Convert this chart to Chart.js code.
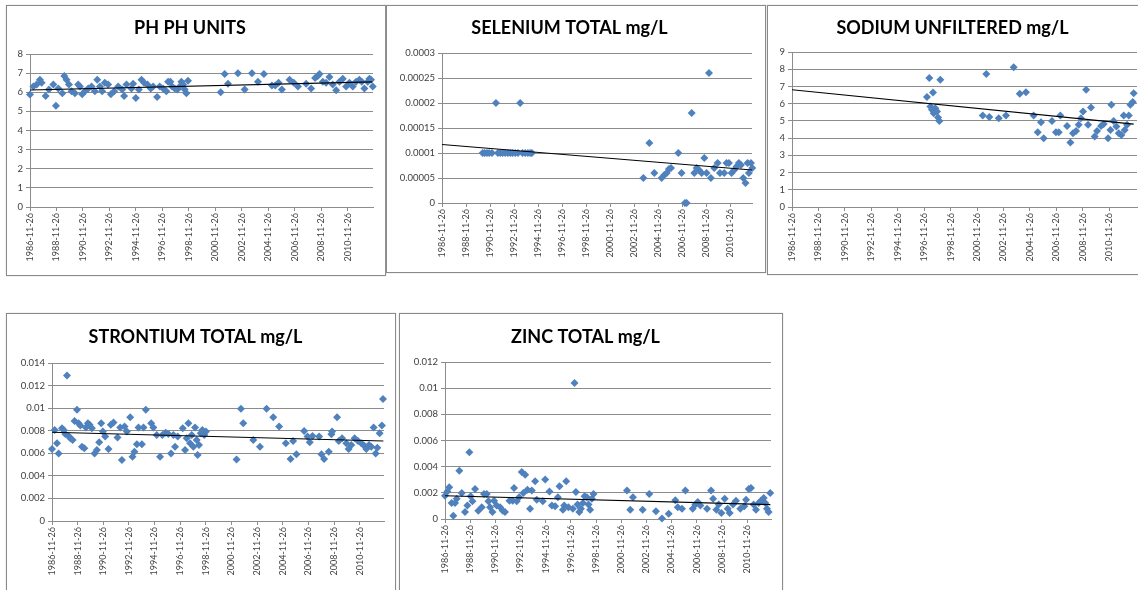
<!DOCTYPE html>
<html>
<head>
<meta charset="utf-8">
<title>Water quality trends</title>
<script src="https://cdn.jsdelivr.net/npm/chart.js@4.4.0/dist/chart.umd.min.js"></script>
<style>
  html, body {
    margin: 0;
    padding: 0;
    width: 1138px;
    height: 590px;
    overflow: hidden;
    background: #fff;
  }
  .panel {
    position: absolute;
    box-sizing: border-box;
    border: 1px solid #8a8a8a;
    box-shadow: 0 0 1px #b5b5b5;
    background: #fff;
  }
  .panel canvas {
    position: absolute;
    left: 0;
    top: 0;
  }
</style>
</head>
<body>
<div class="panel" id="p-ph"><canvas></canvas></div>
<div class="panel" id="p-se"><canvas></canvas></div>
<div class="panel" id="p-na"><canvas></canvas></div>
<div class="panel" id="p-sr"><canvas></canvas></div>
<div class="panel" id="p-zn"><canvas></canvas></div>

<script>
// x axis: sample dates as decimal years, ticks every two years
const tickDates = ['1986-11-26', '1988-11-26', '1990-11-26', '1992-11-26', '1994-11-26', '1996-11-26',
	'1998-11-26', '2000-11-26', '2002-11-26', '2004-11-26', '2006-11-26', '2008-11-26', '2010-11-26'];
const trendYears = [1986.9, 2012.75];

// PH PH UNITS
const phYears = [1986.90, 1987.15, 1987.40, 1987.65, 1987.78, 1988.08, 1988.33, 1988.66, 1988.86, 1989.04,
	1989.34, 1989.49, 1989.66, 1989.84, 1990.04, 1990.29, 1990.54, 1990.67, 1990.84, 1991.05,
	1991.30, 1991.55, 1991.80, 1991.98, 1992.18, 1992.35, 1992.55, 1992.80, 1993.01, 1993.26,
	1993.56, 1993.86, 1994.01, 1994.19, 1994.56, 1994.69, 1994.89, 1995.12, 1995.32, 1995.52,
	1995.77, 1996.02, 1996.20, 1996.50, 1996.70, 1996.95, 1997.20, 1997.33, 1997.50, 1997.63,
	1997.83, 1998.03, 1998.21, 1998.33, 1998.46, 1998.58, 1998.71, 1998.83,
	2001.30, 2001.60, 2001.85, 2002.60, 2003.11, 2003.66, 2004.11, 2004.56, 2005.17, 2005.42,
	2005.67, 2005.92, 2006.50, 2006.82, 2007.13, 2007.75, 2008.13, 2008.43, 2008.63, 2008.76,
	2009.01, 2009.26, 2009.51, 2009.76, 2010.02, 2010.27, 2010.52, 2010.77, 2011.02, 2011.27,
	2011.52, 2011.77, 2011.95, 2012.15, 2012.40, 2012.53, 2012.65, 2012.78];
const phValues = [5.88, 6.3, 6.4, 6.65, 6.5, 5.8, 6.15, 6.4, 5.3, 6.2,
	5.95, 6.85, 6.65, 6.4, 6.05, 5.95, 6.4, 6.3, 5.9, 6.05,
	6.2, 6.3, 6.05, 6.65, 6.3, 6.05, 6.5, 6.4, 5.9, 6.05,
	6.3, 6.15, 5.8, 6.4, 6.2, 6.45, 5.7, 6.15, 6.65, 6.5,
	6.4, 6.2, 6.3, 5.75, 6.3, 6.2, 6.05, 6.55, 6.55, 6.3,
	6.2, 6.15, 6.3, 6.55, 6.4, 6.15, 5.95, 6.6,
	6.0, 6.95, 6.45, 7.0, 6.15, 7.0, 6.55, 6.95, 6.35, 6.35,
	6.5, 6.15, 6.65, 6.5, 6.3, 6.45, 6.2, 6.75, 6.85, 6.95,
	6.55, 6.5, 6.8, 6.4, 6.1, 6.55, 6.7, 6.3, 6.5, 6.3,
	6.55, 6.65, 6.55, 6.2, 6.55, 6.7, 6.65, 6.3];
const phTrend = [6.12, 6.54];

// SELENIUM TOTAL mg/L
const seYears = [1990.28, 1990.45, 1990.64, 1990.83, 1991.06, 1991.39, 1991.55, 1991.75, 1991.94, 1992.16,
	1992.38, 1992.58, 1992.77, 1992.99, 1993.22, 1993.41, 1993.60, 1993.83, 1994.05, 1994.24, 1994.38,
	2003.66, 2004.16, 2004.57, 2005.18, 2005.40, 2005.60, 2005.79, 2005.96, 2006.57, 2006.84,
	2007.12, 2007.26, 2007.68, 2007.90, 2008.09, 2008.29, 2008.51, 2008.73, 2008.92, 2009.12,
	2009.28, 2009.56, 2009.84, 2010.03, 2010.39, 2010.58, 2010.78, 2011.00, 2011.22, 2011.42,
	2011.61, 2011.78, 2011.97, 2012.16, 2012.33, 2012.44, 2012.61, 2012.72];
const seValues = [0.0001, 0.0001, 0.0001, 0.0001, 0.0001, 0.0002, 0.0001, 0.0001, 0.0001, 0.0001,
	0.0001, 0.0001, 0.0001, 0.0001, 0.0001, 0.0002, 0.0001, 0.0001, 0.0001, 0.0001, 0.0001,
	0.00005, 0.00012, 0.00006, 0.00005, 0.000056, 0.00006, 0.000068, 0.00007, 0.0001, 0.00006,
	0, 0, 0.00018, 0.00006, 0.00007, 0.000066, 0.00006, 0.00009, 0.00006, 0.00026,
	0.00005, 0.00007, 0.00008, 0.00006, 0.00006, 0.00008, 0.00008, 0.00006, 0.000066, 0.000073,
	0.00008, 0.000076, 0.00005, 0.00004, 0.00008, 0.00006, 0.00008, 0.00007];
const seTrend = [0.000117, 0.000066];

// SODIUM UNFILTERED mg/L
const naYears = [1997.11, 1997.29, 1997.37, 1997.49, 1997.57, 1997.62, 1997.74, 1997.87, 1997.95, 1998.05,
	1998.12, 2001.33, 2001.60, 2001.83, 2002.54, 2003.09, 2003.67, 2004.13, 2004.60, 2005.18,
	2005.49, 2005.74, 2005.94, 2006.57, 2006.87, 2007.08, 2007.20, 2007.71, 2007.96, 2008.16,
	2008.39, 2008.59, 2008.76, 2008.92, 2009.15, 2009.30, 2009.52, 2009.80, 2009.98, 2010.28,
	2010.48, 2010.81, 2010.99, 2011.06, 2011.23, 2011.44, 2011.62, 2011.82, 2012.00, 2012.07,
	2012.25, 2012.38, 2012.50, 2012.68, 2012.75];
const naValues = [6.38, 7.49, 5.84, 5.64, 6.65, 5.45, 5.74, 5.54, 5.19, 5.0,
	7.39, 5.31, 7.72, 5.23, 5.16, 5.31, 8.11, 6.58, 6.67, 5.31,
	4.34, 4.92, 3.99, 5.0, 4.34, 4.34, 5.31, 4.71, 3.75, 4.28,
	4.42, 4.77, 5.16, 5.54, 6.81, 4.77, 5.78, 4.09, 4.42, 4.71,
	4.82, 3.99, 4.47, 5.93, 5.0, 4.67, 4.28, 4.18, 5.31, 4.47,
	4.77, 5.31, 5.93, 6.09, 6.61];
const naTrend = [6.81, 4.81];

// STRONTIUM TOTAL mg/L
const srYears = [1986.90, 1987.11, 1987.29, 1987.42, 1987.68, 1987.81, 1987.94, 1988.07, 1988.20, 1988.33,
	1988.51, 1988.66, 1988.85, 1988.98, 1989.11, 1989.24, 1989.42, 1989.55, 1989.70, 1989.83,
	1990.01, 1990.22, 1990.40, 1990.58, 1990.74, 1990.87, 1991.05, 1991.31, 1991.49, 1991.70,
	1992.01, 1992.22, 1992.35, 1992.56, 1992.74, 1993.00, 1993.18, 1993.33, 1993.52, 1993.65,
	1993.91, 1994.04, 1994.22, 1994.64, 1994.81, 1995.07, 1995.33, 1995.51, 1995.77, 1995.98,
	1996.19, 1996.37, 1996.50, 1996.71, 1997.10, 1997.28, 1997.41, 1997.54, 1997.67, 1997.80,
	1997.93, 1998.06, 1998.19, 1998.26, 1998.37, 1998.50, 1998.63, 1998.78, 1998.91,
	2001.30, 2001.64, 2001.82, 2002.60, 2003.12, 2003.64, 2004.16, 2004.62, 2005.14, 2005.51,
	2005.71, 2005.97, 2006.57, 2006.83, 2007.01, 2007.22, 2007.74, 2007.92, 2008.13, 2008.49,
	2008.70, 2008.75, 2009.14, 2009.27, 2009.53, 2009.86, 2010.04, 2010.25, 2010.51, 2010.77,
	2011.03, 2011.24, 2011.42, 2011.63, 2011.81, 2011.99, 2012.15, 2012.28, 2012.46, 2012.64, 2012.72];
const srValues = [0.00638, 0.00807, 0.00688, 0.00599, 0.00822, 0.00807, 0.00771, 0.0129, 0.00754, 0.00733,
	0.00718, 0.00887, 0.00985, 0.00866, 0.00846, 0.00659, 0.00644, 0.00828, 0.00866, 0.00852,
	0.00822, 0.00599, 0.00629, 0.00697, 0.00866, 0.00792, 0.00748, 0.00638, 0.00852, 0.00872,
	0.00739, 0.00828, 0.0054, 0.00837, 0.00792, 0.0092, 0.0057, 0.00614, 0.0068, 0.00828,
	0.0068, 0.00828, 0.00985, 0.00866, 0.00828, 0.00763, 0.0057, 0.00763, 0.00783, 0.00771,
	0.00599, 0.00763, 0.00659, 0.00748, 0.00822, 0.00629, 0.00733, 0.00866, 0.00688, 0.00763,
	0.00659, 0.00828, 0.00718, 0.00585, 0.00674, 0.00777, 0.00807, 0.00763, 0.00792,
	0.00546, 0.00994, 0.00866, 0.00718, 0.00659, 0.00994, 0.0092, 0.00837, 0.00688, 0.00549,
	0.00709, 0.00591, 0.00798, 0.00748, 0.00697, 0.00754, 0.00748, 0.00591, 0.00549, 0.00614,
	0.00768, 0.00792, 0.0092, 0.00709, 0.00733, 0.00688, 0.00638, 0.00674, 0.00733, 0.00709,
	0.00688, 0.00668, 0.00638, 0.00674, 0.00659, 0.00828, 0.00599, 0.0065, 0.00777, 0.00846, 0.0108];
const srTrend = [0.00786, 0.00709];

// ZINC TOTAL mg/L
const znYears = [1986.90, 1987.09, 1987.24, 1987.43, 1987.56, 1987.70, 1987.83, 1988.04, 1988.23, 1988.49,
	1988.68, 1988.84, 1988.94, 1989.08, 1989.29, 1989.55, 1989.82, 1990.00, 1990.22, 1990.35,
	1990.48, 1990.67, 1990.80, 1991.01, 1991.28, 1991.49, 1991.67, 1992.02, 1992.28, 1992.39,
	1992.60, 1992.79, 1993.00, 1993.13, 1993.27, 1993.45, 1993.66, 1993.80, 1994.06, 1994.19,
	1994.67, 1994.86, 1995.20, 1995.39, 1995.65, 1995.87, 1996.00, 1996.27, 1996.37, 1996.53,
	1996.71, 1997.06, 1997.19, 1997.30, 1997.43, 1997.57, 1997.70, 1997.86, 1997.99, 1998.17,
	1998.30, 1998.43, 1998.57, 1998.70,
	2001.36, 2001.62, 2001.83, 2002.60, 2003.13, 2003.66, 2004.14, 2004.67, 2005.20, 2005.39,
	2005.73, 2006.00, 2006.58, 2006.79, 2006.98, 2007.19, 2007.72, 2008.04, 2008.20, 2008.46,
	2008.65, 2008.86, 2009.12, 2009.36, 2009.52, 2009.78, 2010.02, 2010.36, 2010.68, 2010.82,
	2011.03, 2011.21, 2011.42, 2011.61, 2011.82, 2012.00, 2012.22, 2012.35, 2012.48, 2012.61, 2012.74];
const znValues = [0.00178, 0.00211, 0.00242, 0.00122, 0.00025, 0.00122, 0.00155, 0.00369, 0.00199, 0.00054,
	0.00104, 0.0051, 0.00173, 0.00135, 0.00229, 0.00064, 0.00089, 0.00191, 0.00191, 0.00135,
	0.00089, 0.00054, 0.0014, 0.00104, 0.00089, 0.00064, 0.00054, 0.0014, 0.0014, 0.00237,
	0.00135, 0.00166, 0.00359, 0.00199, 0.00339, 0.00224, 0.00079, 0.00217, 0.00288, 0.00148,
	0.00135, 0.00301, 0.00211, 0.00104, 0.00097, 0.00166, 0.0025, 0.00071, 0.00104, 0.00288,
	0.00089, 0.00079, 0.0104, 0.00206, 0.0011, 0.00054, 0.00079, 0.00122, 0.00173, 0.00166,
	0.0011, 0.00071, 0.00155, 0.00191,
	0.00217, 0.00071, 0.00166, 0.00071, 0.00191, 0.00059, 0.00003, 0.00041, 0.00143, 0.00089,
	0.00079, 0.00217, 0.00079, 0.0011, 0.0013, 0.00104, 0.00079, 0.00217, 0.00155, 0.00071,
	0.0011, 0.00046, 0.00155, 0.00079, 0.00046, 0.0011, 0.0014, 0.00079, 0.00097, 0.00148,
	0.00229, 0.00237, 0.0011, 0.00071, 0.00122, 0.0014, 0.0016, 0.00122, 0.00079, 0.00054, 0.00199];
const znTrend = [0.00178, 0.0011];

// panel geometry in page pixels: box [left, top, width, height], plot area [left, top, right, bottom]
const layout = {
	ph: { box: [6, 5, 380, 271], plot: [30, 54, 373, 207], titleY: 28, xMax: 2012.8 },
	se: { box: [386, 5, 380, 268], plot: [442, 53, 752, 203], titleY: 28, xMax: 2012.7 },
	na: { box: [767, 5, 380, 270], plot: [792, 52, 1137, 207], titleY: 28, xMax: 2013.0 },
	sr: { box: [6, 313, 390, 292], plot: [52, 363, 384, 521], titleY: 337, xMax: 2012.8 },
	zn: { box: [399, 313, 384, 292], plot: [445, 362, 771, 519], titleY: 337, xMax: 2012.8 },
};

const MARKER = '#4F81BD';
const GRID = '#8c8c8c';
const LABEL = '#404040';
const TITLE_SIZE = 18;

function toYear(iso) {
	const [y, m, d] = iso.split('-').map(Number);
	const start = Date.UTC(y, 0, 1);
	const next = Date.UTC(y + 1, 0, 1);
	return y + (Date.UTC(y, m - 1, d) - start) / (next - start);
}

const xMin = toYear(tickDates[0]);
const xTickValues = tickDates.map(toYear);

function makeChart(key, title, years, values, trend, yMax, yStep) {
	const L = layout[key];
	const [bx, by, bw, bh] = L.box;
	const [pl, pt, pr, pb] = L.plot;

	const panel = document.getElementById('p-' + key);
	panel.style.left = bx + 'px';
	panel.style.top = by + 'px';
	panel.style.width = bw + 'px';
	panel.style.height = bh + 'px';

	// canvas sits inside the 1px border
	const cx = bx + 1;
	const cy = by + 1;
	const cw = bw - 2;
	const ch = bh - 2;
	const canvas = panel.querySelector('canvas');
	canvas.width = cw;
	canvas.height = ch;
	canvas.style.width = cw + 'px';
	canvas.style.height = ch + 'px';

	const lineH = TITLE_SIZE * 1.2;
	const titleTop = L.titleY - cy - lineH / 2;
	const titleBottom = pt - cy - titleTop - lineH;

	const points = years.map((x, i) => ({ x: x, y: values[i] }));
	const trendPoints = trendYears.map((x, i) => ({ x: x, y: trend[i] }));

	return new Chart(canvas, {
		type: 'scatter',
		data: {
			datasets: [
				{
					data: trendPoints,
					showLine: true,
					borderColor: '#000',
					borderWidth: 1.1,
					pointRadius: 0,
					order: 0,
				},
				{
					data: points,
					pointStyle: 'rectRot',
					pointRadius: 4,
					pointBackgroundColor: MARKER,
					pointBorderWidth: 0,
					pointBorderColor: MARKER,
					clip: false,
					order: 1,
				},
			],
		},
		options: {
			responsive: false,
			animation: false,
			events: [],
			layout: {
				padding: { left: 0, top: 0, right: cx + cw - pr, bottom: 0 },
			},
			plugins: {
				legend: { display: false },
				tooltip: { enabled: false },
				title: {
					display: true,
					text: title,
					color: '#000',
					font: { family: 'Lato', size: TITLE_SIZE, weight: 'bold', lineHeight: 1.2 },
					padding: { top: titleTop, bottom: titleBottom },
				},
			},
			scales: {
				x: {
					type: 'linear',
					min: xMin,
					max: L.xMax,
					bounds: 'data',
					afterBuildTicks: (scale) => {
						scale.ticks = xTickValues.map((v) => ({ value: v }));
					},
					afterFit: (scale) => {
						scale.height = cy + ch - pb;
					},
					ticks: {
						autoSkip: false,
						minRotation: 90,
						maxRotation: 90,
						padding: 2,
						color: LABEL,
						font: { family: 'Lato', size: 9 },
						callback: (value, index) => tickDates[index],
					},
					grid: { drawOnChartArea: false, drawTicks: true, tickLength: 4, color: GRID },
					border: { color: GRID, width: 1 },
				},
				y: {
					min: 0,
					max: yMax,
					afterFit: (scale) => {
						scale.width = pl - cx;
					},
					ticks: {
						stepSize: yStep,
						padding: 3,
						color: LABEL,
						font: { family: 'Lato', size: 9.5 },
						callback: (value) => String(+value.toFixed(6)),
					},
					grid: { color: GRID, tickLength: 4 },
					border: { color: GRID, width: 1 },
				},
			},
		},
	});
}

makeChart('ph', 'PH PH UNITS', phYears, phValues, phTrend, 8, 1);
makeChart('se', 'SELENIUM TOTAL mg/L', seYears, seValues, seTrend, 0.0003, 0.00005);
makeChart('na', 'SODIUM UNFILTERED mg/L', naYears, naValues, naTrend, 9, 1);
makeChart('sr', 'STRONTIUM TOTAL mg/L', srYears, srValues, srTrend, 0.014, 0.002);
makeChart('zn', 'ZINC TOTAL mg/L', znYears, znValues, znTrend, 0.012, 0.002);
</script>
</body>
</html>
